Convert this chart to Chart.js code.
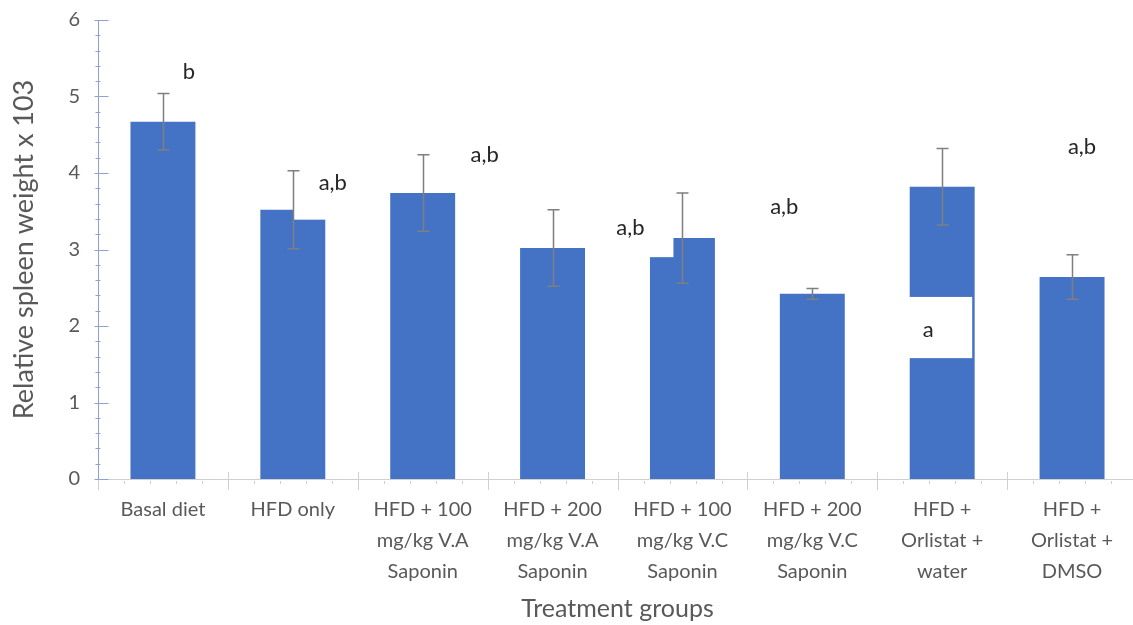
<!DOCTYPE html>
<html>
<head>
<meta charset="utf-8">
<script src="https://cdn.jsdelivr.net/npm/chart.js@4.4.1/dist/chart.umd.min.js"></script>
<style>
  html, body { margin: 0; padding: 0; background: #fff; overflow: hidden; }
  #wrap { position: relative; width: 1140px; height: 625px; }
</style>
</head>
<body>
<div id="wrap"><canvas id="chart"></canvas></div>
<script>
// groups on the x axis (multi-line labels)
const categories = [
    ['Basal diet'],
    ['HFD only'],
    ['HFD + 100', 'mg/kg V.A', 'Saponin'],
    ['HFD + 200', 'mg/kg V.A', 'Saponin'],
    ['HFD + 100', 'mg/kg V.C', 'Saponin'],
    ['HFD + 200', 'mg/kg V.C', 'Saponin'],
    ['HFD +', 'Orlistat +', 'water'],
    ['HFD +', 'Orlistat +', 'DMSO'],
];
// mean relative spleen weight and error (+/-)
const means = [4.67, 3.52, 3.74, 3.02, 3.15, 2.42, 3.82, 2.64];
const errors = [0.37, 0.51, 0.50, 0.50, 0.59, 0.07, 0.50, 0.29];
const yTicks = [0, 1, 2, 3, 4, 5, 6];

// significance letters; some sit in white text boxes that cover part of a bar
const letterNotes = [
    { text: 'b', index: 0, dx: 26, y: 5.32 },
    { text: 'a,b', index: 1, dx: 40, y: 3.87, box: { dx0: 1, dx1: 72, y0: 3.39, y1: 4.2 } },
    { text: 'a,b', index: 2, dx: 62, y: 4.24 },
    { text: 'a,b', index: 4, dx: -52, y: 3.28, box: { dx0: -82, dx1: -9, y0: 2.90, y1: 3.6 } },
    { text: 'a,b', index: 5, dx: -28, y: 3.56 },
    { text: 'a', index: 6, dx: -14, y: 1.95, box: { dx0: -37, dx1: 30, y0: 1.58, y1: 2.38 } },
    { text: 'a,b', index: 7, dx: 10, y: 4.34 },
];

const FONT = 'Lato, "Open Sans", sans-serif';

const axisDecor = {
    id: 'axisDecor',
    beforeDatasetsDraw(chart) {
        const { ctx, scales: { x, y }, chartArea } = chart;
        ctx.save();
        // x axis line + ticks
        ctx.strokeStyle = '#d0d0d0';
        ctx.lineWidth = 1;
        ctx.beginPath();
        ctx.moveTo(chartArea.left, y.getPixelForValue(0) + 0.5);
        ctx.lineTo(chartArea.right + 5, y.getPixelForValue(0) + 0.5);
        const step = (x.getPixelForValue(1) - x.getPixelForValue(0));
        for (let i = 0; i <= categories.length; i++) {
            const px = Math.round(x.getPixelForValue(i - 0.5)) + 0.5;
            const base = y.getPixelForValue(0);
            ctx.moveTo(px, base - 7);
            ctx.lineTo(px, base + 11);
            if (i < categories.length) {
                for (let k = 1; k < 5; k++) {
                    const mx = Math.round(px + step * k / 5) + 0.5;
                    ctx.moveTo(mx, base + 2);
                    ctx.lineTo(mx, base + 5);
                }
            }
        }
        ctx.stroke();
        // y axis line + ticks
        ctx.strokeStyle = '#8fa0d8';
        ctx.beginPath();
        const ax = Math.round(chartArea.left) + 0.5;
        ctx.moveTo(ax, y.getPixelForValue(6));
        ctx.lineTo(ax, y.getPixelForValue(0));
        for (let v = 0; v <= 30; v++) {
            const py = Math.round(y.getPixelForValue(v / 5)) + 0.5;
            if (v % 5 === 0) {
                ctx.moveTo(ax - 4, py);
                ctx.lineTo(ax + 10, py);
            } else {
                ctx.moveTo(ax - 3, py);
                ctx.lineTo(ax + 2, py);
            }
        }
        ctx.stroke();
        ctx.restore();
    },
    afterDatasetsDraw(chart) {
        const { ctx, scales: { x, y } } = chart;
        ctx.save();
        // white label boxes
        letterNotes.forEach(n => {
            if (!n.box) return;
            const cx = x.getPixelForValue(n.index);
            const top = y.getPixelForValue(n.box.y1);
            const bot = y.getPixelForValue(n.box.y0);
            ctx.fillStyle = '#ffffff';
            ctx.fillRect(cx + n.box.dx0, top, n.box.dx1 - n.box.dx0, bot - top);
        });
        ctx.fillStyle = '#262626';
        ctx.font = '22px ' + FONT;
        ctx.textAlign = 'center';
        ctx.textBaseline = 'middle';
        letterNotes.forEach(n => {
            ctx.fillText(n.text, x.getPixelForValue(n.index) + n.dx, y.getPixelForValue(n.y));
        });
        // error bars
        ctx.strokeStyle = '#7f7f7f';
        ctx.lineWidth = 1.5;
        ctx.beginPath();
        means.forEach((m, i) => {
            const cx = Math.round(x.getPixelForValue(i)) + 0.5;
            const hi = y.getPixelForValue(m + errors[i]);
            const lo = y.getPixelForValue(m - errors[i]);
            ctx.moveTo(cx, hi);
            ctx.lineTo(cx, lo);
            ctx.moveTo(cx - 6, hi);
            ctx.lineTo(cx + 6, hi);
            ctx.moveTo(cx - 6, lo);
            ctx.lineTo(cx + 6, lo);
        });
        ctx.stroke();
        ctx.restore();
    }
};

new Chart(document.getElementById('chart'), {
    type: 'bar',
    data: {
        labels: categories,
        datasets: [{
            data: means,
            backgroundColor: '#4472c4',
            borderWidth: 0,
            barPercentage: 1,
            categoryPercentage: 0.5,
        }],
    },
    options: {
        responsive: true,
        maintainAspectRatio: false,
        animation: false,
        layout: { padding: { top: 20, right: 3, left: 0, bottom: 0 } },
        plugins: { legend: { display: false }, tooltip: { enabled: false } },
        scales: {
            x: {
                grid: { display: false, drawTicks: false },
                border: { display: false },
                ticks: { color: '#595959', padding: 15, maxRotation: 0, autoSkip: false,
                         font: { family: FONT, size: 20, lineHeight: 1.55 } },
                title: { display: true, text: 'Treatment groups', color: '#595959',
                         font: { family: FONT, size: 25 }, padding: { top: 0, bottom: 1 } },
                afterFit(scale) {
                    scale.height = 146;
                    scale.paddingLeft = 0;
                    scale.paddingRight = 0;
                },
            },
            y: {
                min: 0,
                max: 6,
                afterBuildTicks(scale) { scale.ticks = yTicks.map(v => ({ value: v })); },
                grid: { display: false, drawTicks: false },
                border: { display: false },
                ticks: { color: '#595959', padding: 18, font: { family: FONT, size: 20 } },
                title: { display: true, text: 'Relative spleen weight x 103', color: '#595959',
                         font: { family: FONT, size: 27 }, padding: { top: 8, bottom: 0 } },
                afterFit(scale) {
                    scale.width = 98;
                    scale.paddingTop = 0;
                    scale.paddingBottom = 0;
                },
            },
        },
    },
    plugins: [axisDecor],
});
</script>
</body>
</html>
